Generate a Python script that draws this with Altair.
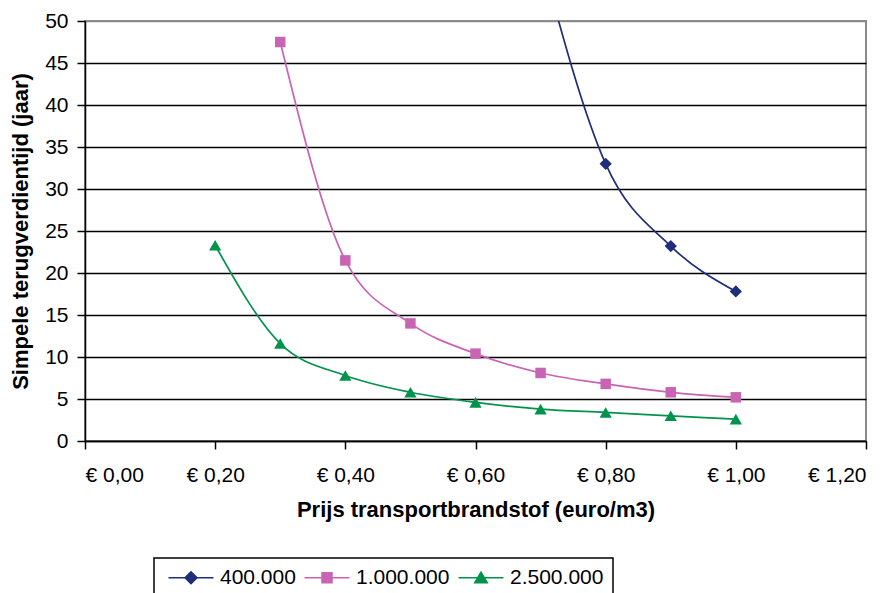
import altair as alt
import pandas as pd

# Fuel price (euro per m3) on the x axis
prices = [0.2, 0.3, 0.4, 0.5, 0.6, 0.7, 0.8, 0.9, 1.0]

# Simple payback time (years) per installation size
payback_400k = [None, None, None, None, None, 57.8, 33.0, 23.2, 17.8]
payback_1m = [None, 47.5, 21.5, 14.0, 10.4, 8.1, 6.8, 5.8, 5.2]
payback_2500k = [23.3, 11.6, 7.8, 5.8, 4.6, 3.8, 3.4, 3.0, 2.6]

series_names = ["400.000", "1.000.000", "2.500.000"]
series_colors = ["#1F2D7B", "#C963B3", "#00934B"]
series_shapes = ["diamond", "square", "triangle-up"]
series_sizes = [150, 110, 150]

x_ticks = [0.0, 0.2, 0.4, 0.6, 0.8, 1.0, 1.2]
y_ticks = [0, 5, 10, 15, 20, 25, 30, 35, 40, 45, 50]

rows = []
for name, values in zip(series_names, [payback_400k, payback_1m, payback_2500k]):
    for p, v in zip(prices, values):
        if v is not None:
            rows.append({"prijs": p, "jaar": v, "serie": name})
df = pd.DataFrame(rows)

FONT = "Liberation Sans"

# Legend symbols: a short line with the series marker in the middle
legend_paths = [
    "M-1,0H8M3.5,-1.2L4.7,0L3.5,1.2L2.3,0Z",
    "M-1,0H8M2.5,-1H4.5V1H2.5Z",
    "M-1,0H8M3.5,-1.1L4.75,1L2.25,1Z",
]

color_scale = alt.Scale(domain=series_names, range=series_colors)

x_enc = alt.X(
    "prijs:Q",
    scale=alt.Scale(domain=[0, 1.2], nice=False),
    axis=alt.Axis(
        values=x_ticks,
        labelExpr="'€ ' + replace(format(datum.value, '.2f'), '.', ',')",
        title="Prijs transportbrandstof (euro/m3)",
        grid=False,
        labelPadding=15,
        titlePadding=14,
    ),
)
y_enc = alt.Y(
    "jaar:Q",
    scale=alt.Scale(domain=[0, 50], nice=False),
    axis=alt.Axis(
        values=y_ticks,
        title="Simpele terugverdientijd (jaar)",
        grid=True,
        gridColor={"condition": {"test": "datum.value === 50", "value": "#8A8A8A"}, "value": "black"},
        labelPadding=9,
        titlePadding=12,
    ),
)

legend = alt.Legend(
    title=None,
    orient="none",
    legendX=69,
    legendY=537,
    direction="horizontal",
    symbolSize=100,
    symbolOpacity=1,
    symbolStrokeWidth=1.5,
    labelOffset=36,
    columnPadding=3,
    padding=9,
    strokeColor="black",
    labelFont=FONT,
    labelFontSize=21,
    labelColor="black",
)

base = alt.Chart(df)
color_enc = alt.Color("serie:N", scale=color_scale, legend=legend)

lines = base.mark_line(interpolate="monotone", strokeWidth=1.7, clip=True).encode(
    x=x_enc,
    y=y_enc,
    color=color_enc,
    detail="serie:N",
)

# Markers, one layer per series so each keeps its own shape
marker_layers = [
    base.transform_filter(alt.datum.serie == name)
    .mark_point(filled=True, size=size, opacity=1, clip=True, shape=shape)
    .encode(x=x_enc, y=y_enc, color=color_enc)
    for name, shape, size in zip(series_names, series_shapes, series_sizes)
]

# Invisible layer that carries the legend symbols (line + marker)
legend_layer = base.mark_point(filled=True, opacity=0, strokeWidth=1.5, clip=True).encode(
    x=x_enc,
    y=y_enc,
    color=color_enc,
    stroke=alt.Stroke("serie:N", scale=alt.Scale(domain=series_names, range=series_colors), legend=legend),
    shape=alt.Shape("serie:N", scale=alt.Scale(domain=series_names, range=legend_paths), legend=legend),
)

chart = (
    alt.layer(lines, *marker_layers, legend_layer)
    .properties(
        width=781,
        height=420,
        autosize=alt.AutoSizeParams(type="none"),
        padding={"left": 85, "top": 21, "right": 29, "bottom": 152},
        background="white",
    )
    .configure_view(stroke="#8A8A8A", strokeWidth=2)
    .configure_axis(
        domainColor="black",
        domainWidth=1.5,
        tickColor="black",
        tickWidth=1.5,
        tickSize=8,
        gridWidth=1.5,
        labelFont=FONT,
        labelFontSize=21,
        labelColor="black",
        titleFont=FONT,
        titleFontSize=22,
        titleFontWeight="bold",
        titleColor="black",
    )
    .configure_legend(strokeWidth=1.5)
)

chart.save("out.html", embed_options={"renderer": "svg", "actions": False})
